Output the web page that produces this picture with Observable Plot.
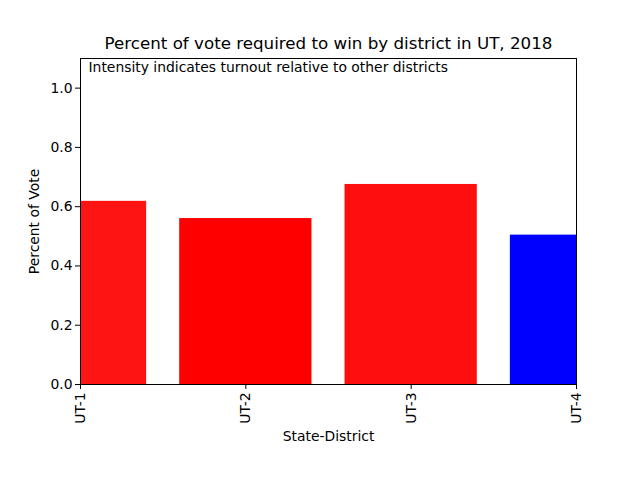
<!DOCTYPE html>
<html>
<head>
<meta charset="utf-8">
<script src="https://cdn.jsdelivr.net/npm/d3@7"></script>
<script src="https://cdn.jsdelivr.net/npm/@observablehq/plot@0.6"></script>
<style>
  body { margin: 0; background: #fff; }
  #chart svg { font-family: "DejaVu Sans", sans-serif; }
</style>
</head>
<body>
<div id="chart"></div>
<script>
const districts = ["UT-1", "UT-2", "UT-3", "UT-4"];
const votePct = [0.618, 0.560, 0.675, 0.504];
const barColors = ["#ff1414", "#ff0000", "#ff0e0e", "#0000ff"];
const yTicks = [0.0, 0.2, 0.4, 0.6, 0.8, 1.0];
const titleText = "Percent of vote required to win by district in UT, 2018";
const noteText = "Intensity indicates turnout relative to other districts";

const data = districts.map((d, i) => ({idx: i, district: d, value: votePct[i], color: barColors[i]}));

const chart = Plot.plot({
  width: 640,
  height: 480,
  marginLeft: 80,
  marginRight: 64,
  marginTop: 58,
  marginBottom: 96,
  style: {fontFamily: "DejaVu Sans, sans-serif", fontSize: "13.9px", color: "black", background: "white"},
  x: {type: "linear", domain: [0, 3]},
  y: {domain: [0, 1.1]},
  marks: [
    Plot.rectY(data, {x1: d => d.idx - 0.4, x2: d => d.idx + 0.4, y1: 0, y2: "value", fill: "color", clip: true}),
    Plot.frame({stroke: "black", strokeWidth: 1}),
    Plot.axisY({ticks: yTicks, tickFormat: d3.format(".1f"), tickSize: 5, tickPadding: 3, fontSize: 13.9,
      label: "Percent of Vote", labelAnchor: "center", labelArrow: "none", labelOffset: 51}),
    Plot.axisX({ticks: [0, 1, 2, 3], tickFormat: i => districts[i], tickSize: 5, tickPadding: 3, tickRotate: -90, fontSize: 13.9,
      label: "State-District", labelAnchor: "center", labelArrow: "none", labelOffset: 56}),
    Plot.text([titleText], {frameAnchor: "top", dy: -15, fontSize: 16.7, lineAnchor: "middle"}),
    Plot.text([noteText], {frameAnchor: "top-left", dx: 8, dy: 9, fontSize: 13.9, textAnchor: "start", lineAnchor: "middle"})
  ]
});
document.getElementById("chart").append(chart);
</script>
</body>
</html>
